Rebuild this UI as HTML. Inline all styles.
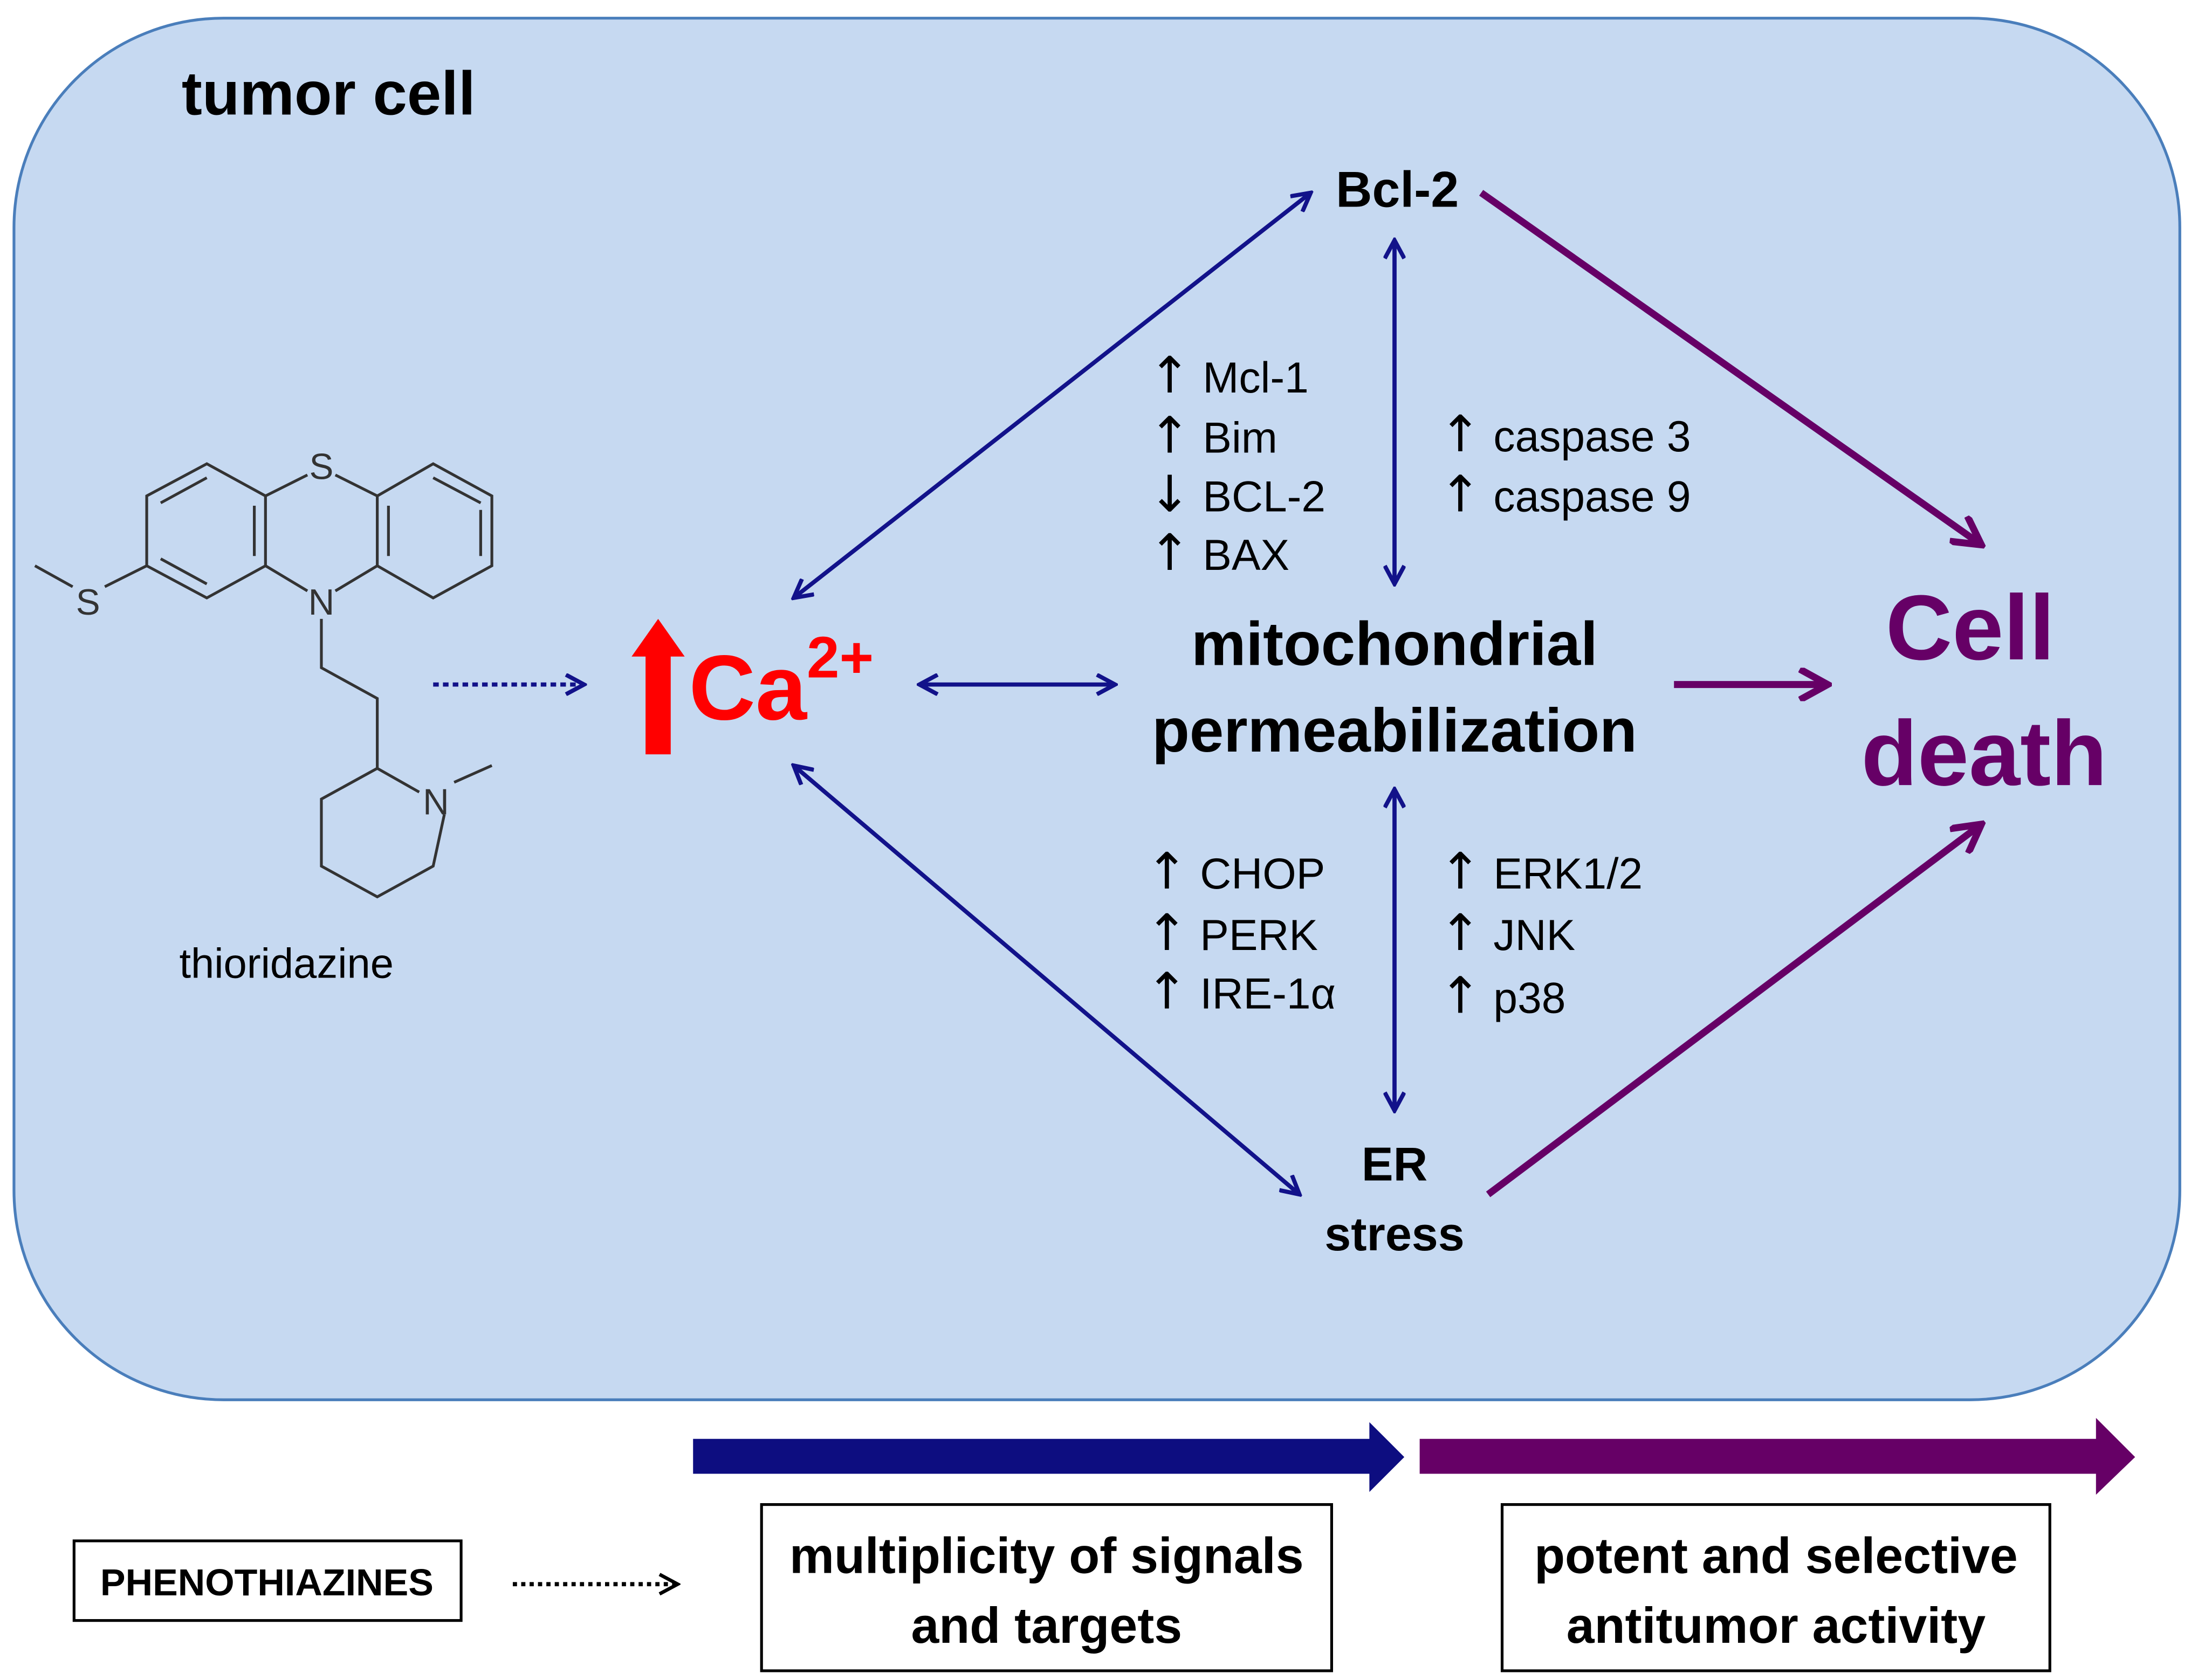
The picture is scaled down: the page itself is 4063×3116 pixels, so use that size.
<!DOCTYPE html>
<html><head><meta charset="utf-8"><style>html,body{margin:0;padding:0;background:#fff}svg{display:block}.ar{font-family:"DejaVu Sans",sans-serif;font-size:36px}</style></head><body>
<svg width="4063" height="3116" viewBox="0 0 1568 1202.6" preserveAspectRatio="none" xmlns="http://www.w3.org/2000/svg" font-family="Liberation Sans, sans-serif">
<defs>
<marker id="bb" markerWidth="16" markerHeight="16" refX="14" refY="8" orient="auto-start-reverse" markerUnits="userSpaceOnUse" viewBox="0 0 16 16"><path d="M1,1 L14,8 L1,15" fill="none" stroke="#12128a" stroke-width="3"/></marker>
<marker id="p" markerWidth="24" markerHeight="24" refX="21" refY="12" orient="auto" markerUnits="userSpaceOnUse" viewBox="0 0 24 24"><path d="M1,1 L21,12 L1,23" fill="none" stroke="#660066" stroke-width="5"/></marker>
<marker id="k" markerWidth="16" markerHeight="16" refX="14" refY="8" orient="auto" markerUnits="userSpaceOnUse" viewBox="0 0 16 16"><path d="M1,1 L14,8 L1,15" fill="none" stroke="#000" stroke-width="2.5"/></marker>
</defs>
<rect x="10" y="13" width="1550" height="989" rx="150" ry="150" fill="#c6d9f1" stroke="#4a7ebb" stroke-width="2"/>
<text x="130" y="82" font-size="44" font-weight="bold">tumor cell</text>
<g stroke="#333" stroke-width="2" fill="none">
<path d="M105,355 L148,332 L190,355 L190,405 L148,428 L105,405 Z"/>
<path d="M115,360 L148,342 M182,362 L182,398 M115,400 L148,418"/>
<path d="M270,355 L310,332 L352,355 L352,405 L310,428 L270,405 Z"/>
<path d="M278,362 L278,398 M310,342 L344,360 M344,365 L344,398"/>
<path d="M190,355 L220,340 M240,340 L270,355 M190,405 L220,423 M240,423 L270,405"/>
<path d="M105,405 L75,420 M52,420 L25,405"/>
<path d="M230,443 L230,478 L270,500 L270,550 L300,567 M318,583 L310,620 L270,642 L230,620 L230,572 L270,550 M325,560 L352,548"/>
</g>
<g font-size="26" fill="#333" text-anchor="middle">
<text x="230" y="343">S</text><text x="230" y="440">N</text><text x="63" y="440">S</text><text x="312" y="583">N</text>
</g>
<text x="205" y="700" font-size="30" text-anchor="middle">thioridazine</text>
<path d="M462,540 L462,470 L452,470 L471,443 L490,470 L480,470 L480,540 Z" fill="#f00"/>
<text x="493" y="515" font-size="66" font-weight="bold" fill="#f00">Ca<tspan font-size="42" dy="-30">2+</tspan></text>
<text x="1000" y="148" font-size="36" font-weight="bold" text-anchor="middle">Bcl-2</text>
<text x="998" y="476" font-size="44" font-weight="bold" text-anchor="middle">mitochondrial</text>
<text x="998" y="538" font-size="44" font-weight="bold" text-anchor="middle">permeabilization</text>
<text x="998" y="845" font-size="34" font-weight="bold" text-anchor="middle">ER</text>
<text x="998" y="895" font-size="34" font-weight="bold" text-anchor="middle">stress</text>
<text x="1410" y="472" font-size="66" font-weight="bold" fill="#660066" text-anchor="middle">Cell</text>
<text x="1420" y="562" font-size="66" font-weight="bold" fill="#660066" text-anchor="middle">death</text>
<g font-size="31">
<text x="822" y="281"><tspan class="ar">↑</tspan> Mcl-1</text><text x="822" y="324"><tspan class="ar">↑</tspan> Bim</text><text x="822" y="366"><tspan class="ar">↓</tspan> BCL-2</text><text x="822" y="408"><tspan class="ar">↑</tspan> BAX</text>
<text x="1030" y="323"><tspan class="ar">↑</tspan> caspase 3</text><text x="1030" y="366"><tspan class="ar">↑</tspan> caspase 9</text>
<text x="820" y="636"><tspan class="ar">↑</tspan> CHOP</text><text x="820" y="680"><tspan class="ar">↑</tspan> PERK</text><text x="820" y="722"><tspan class="ar">↑</tspan> IRE-1α</text>
<text x="1030" y="636"><tspan class="ar">↑</tspan> ERK1/2</text><text x="1030" y="680"><tspan class="ar">↑</tspan> JNK</text><text x="1030" y="725"><tspan class="ar">↑</tspan> p38</text>
</g>
<g stroke="#12128a" stroke-width="3" fill="none">
<line x1="568" y1="428" x2="938" y2="138" marker-start="url(#bb)" marker-end="url(#bb)"/>
<line x1="998" y1="172" x2="998" y2="418" marker-start="url(#bb)" marker-end="url(#bb)"/>
<line x1="658" y1="490" x2="798" y2="490" marker-start="url(#bb)" marker-end="url(#bb)"/>
<line x1="998" y1="565" x2="998" y2="795" marker-start="url(#bb)" marker-end="url(#bb)"/>
<line x1="568" y1="548" x2="930" y2="855" marker-start="url(#bb)" marker-end="url(#bb)"/>
<line x1="310" y1="490" x2="418" y2="490" stroke-dasharray="4,3" marker-end="url(#bb)"/>
</g>
<g stroke="#660066" stroke-width="5" fill="none">
<line x1="1060" y1="138" x2="1418" y2="390" marker-end="url(#p)"/>
<line x1="1198" y1="490" x2="1308" y2="490" marker-end="url(#p)"/>
<line x1="1065" y1="855" x2="1418" y2="590" marker-end="url(#p)"/>
</g>
<path d="M496,1030 L980,1030 L980,1018 L1005,1043 L980,1068 L980,1055 L496,1055 Z" fill="#0d0d80"/>
<path d="M1016,1030 L1500,1030 L1500,1015 L1528,1043 L1500,1070 L1500,1055 L1016,1055 Z" fill="#660066"/>
<rect x="53" y="1103" width="277" height="57" fill="#fff" stroke="#000" stroke-width="2"/>
<text x="191" y="1142" font-size="27" font-weight="bold" text-anchor="middle">PHENOTHIAZINES</text>
<line x1="367" y1="1134" x2="485" y2="1134" stroke="#000" stroke-width="3" stroke-dasharray="3,3" marker-end="url(#k)"/>
<rect x="545" y="1077" width="408" height="119" fill="#fff" stroke="#000" stroke-width="2"/>
<text x="749" y="1126" font-size="36" font-weight="bold" text-anchor="middle">multiplicity of signals</text>
<text x="749" y="1176" font-size="36" font-weight="bold" text-anchor="middle">and targets</text>
<rect x="1075" y="1077" width="392" height="119" fill="#fff" stroke="#000" stroke-width="2"/>
<text x="1271" y="1126" font-size="36" font-weight="bold" text-anchor="middle">potent and selective</text>
<text x="1271" y="1176" font-size="36" font-weight="bold" text-anchor="middle">antitumor activity</text>
</svg>
</body></html>
